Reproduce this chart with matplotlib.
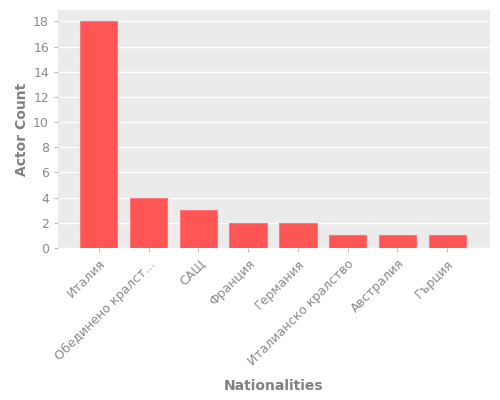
import matplotlib
matplotlib.use("Agg")
import matplotlib.pyplot as plt

categories = ["Италия", "Обединено кралст…", "САЩ", "Франция", "Германия",
              "Италианско кралство", "Австралия", "Гърция"]
counts = [18, 4, 3, 2, 2, 1, 1, 1]

fig = plt.figure(figsize=(5, 4), dpi=100)
ax = fig.add_axes([0.116, 0.38, 0.864, 0.595])
ax.set_facecolor("#EBEBEB")
ax.bar(range(len(categories)), counts, width=0.75, color="#FF5555",
       edgecolor="#FF7777", linewidth=0.8, zorder=3)
ax.set_xlim(-0.82, 7.86)
ax.set_ylim(0, 18.9)
ax.set_yticks(range(0, 19, 2))
ax.set_xticks(range(len(categories)))
ax.set_xticklabels(categories, rotation=45, ha="right", rotation_mode="anchor")
ax.grid(axis="y", color="white", linewidth=1, zorder=0)
ax.grid(axis="x", visible=False)
for s in ax.spines.values():
    s.set_visible(False)
ax.tick_params(colors="#BBBBBB", labelcolor="#8A8A8A", labelsize=9, length=3)
ax.set_ylabel("Actor Count", color="#808080", fontsize=10, fontweight="bold",
              labelpad=3)
ax.set_xlabel("Nationalities", color="#808080", fontsize=10, fontweight="bold",
              labelpad=8)
fig.savefig("out.png", dpi=100)
